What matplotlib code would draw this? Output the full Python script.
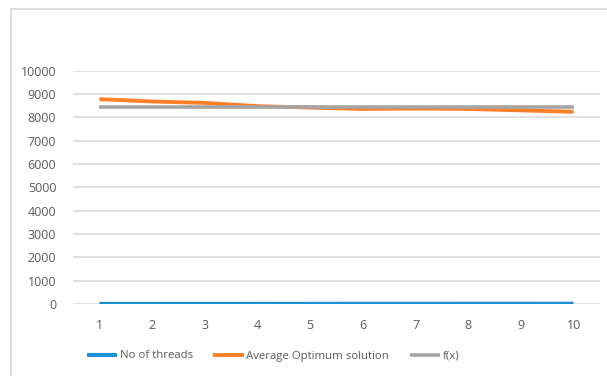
import matplotlib.pyplot as plt
from matplotlib.patches import Rectangle

plt.rcParams["font.family"] = ["Open Sans", "DejaVu Sans"]

runs = [1, 2, 3, 4, 5, 6, 7, 8, 9, 10]
threads = [1, 2, 3, 4, 5, 6, 7, 8, 9, 10]
avg_optimum = [8780, 8680, 8620, 8480, 8420, 8360, 8380, 8360, 8300, 8240]
fx = [8460] * 10

fig = plt.figure(figsize=(6.07, 3.76), dpi=100)
ax = fig.add_axes([73 / 607, 1 - 304 / 376, 527 / 607, (304 - 70.7) / 376])

# chart area border
fig.patches.append(Rectangle((11 / 607, -0.1), 1.2, 1 - 9 / 376 + 0.1,
                             transform=fig.transFigure, fill=False,
                             edgecolor="#d9d9d9", lw=1.2, zorder=0))

ax.plot(runs, threads, color="#1f8fd6", lw=3, solid_capstyle="butt", label="No of threads")
ax.plot(runs, avg_optimum, color="#ff7f27", lw=2.8, solid_capstyle="butt", label="Average Optimum solution")
ax.plot(runs, fx, color="#a5a5a5", lw=2.6, solid_capstyle="butt", label="f(x)")

ax.set_xlim(0.5, 10.5)
ax.set_ylim(0, 10000)
ax.set_xticks(runs)
ax.set_yticks(range(0, 10001, 1000))
ax.grid(axis="y", color="#d9d9d9", lw=1.1)
ax.set_axisbelow(True)
for s in ax.spines.values():
    s.set_visible(False)
ax.tick_params(length=0, labelsize=9, labelcolor="#595959", pad=11)
ax.tick_params(axis="y", pad=12)

fig.legend(loc="center", bbox_to_anchor=(273 / 607, 1 - 356 / 376), ncol=3, frameon=False,
           fontsize=8.2, labelcolor="#595959", handlelength=2.7, handletextpad=0.2,
           columnspacing=1.8)

fig.savefig("out.png", dpi=100)
